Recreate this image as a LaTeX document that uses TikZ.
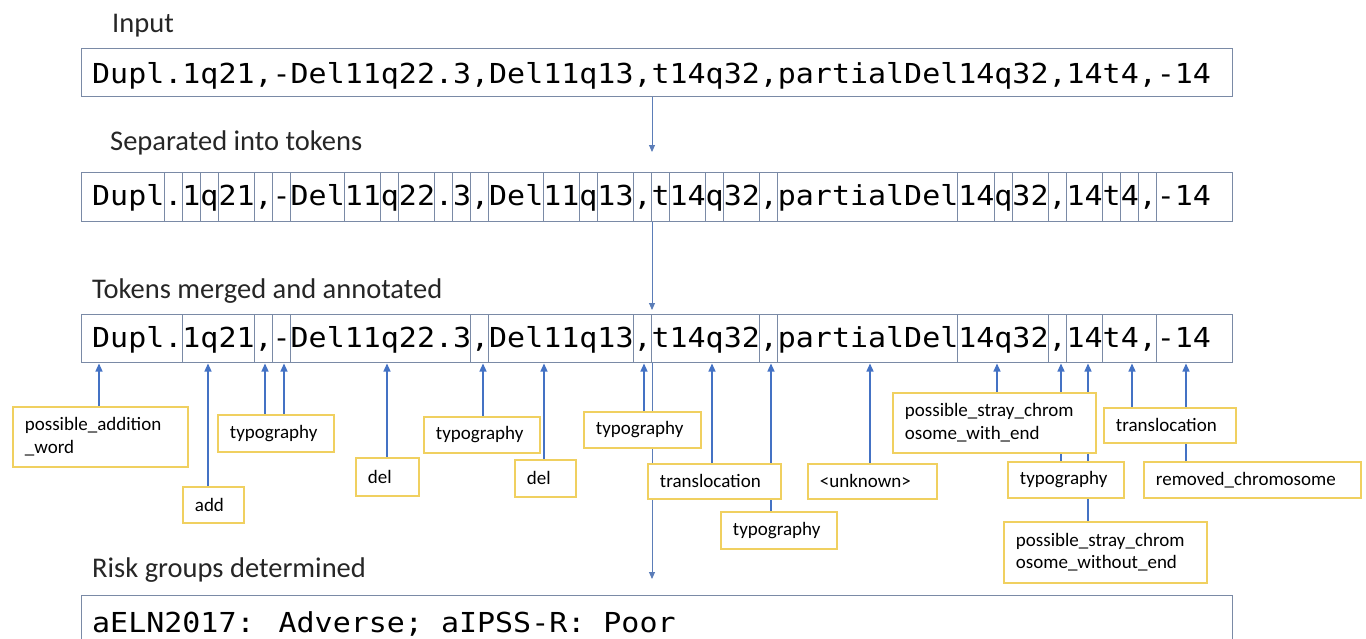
\documentclass[tikz,border=0pt]{standalone}
\usepackage{fontspec}
\setmainfont{Carlito}
\newfontfamily\monofont[FakeStretch=1.09]{DejaVu Sans Mono}
\usetikzlibrary{arrows.meta,backgrounds}
\definecolor{boxline}{HTML}{7A8AA6}
\definecolor{annline}{HTML}{F0D060}
\definecolor{arrowblue}{HTML}{4472C4}
\definecolor{mainarrowc}{HTML}{5B7DB8}
\tikzset{
  mainbox/.style={draw=boxline, line width=1.1pt, fill=none, anchor=north west, inner sep=0pt, minimum width=1151pt},
  divline/.style={draw=boxline, line width=1pt},
  monotext/.style={anchor=base west, inner sep=0pt, font=\monofont\fontsize{27.5}{30}\selectfont},
  heading/.style={anchor=base west, inner sep=0pt, text=black!85, font=\fontsize{28.5}{32}\selectfont},
  ann/.style={draw=annline, line width=1.8pt, fill=white, anchor=north west, inner xsep=12pt, inner ysep=0pt, align=left, font=\fontsize{19}{22.5}\selectfont},
  annarrow/.style={draw=arrowblue, line width=1.2pt, -{Triangle[width=7pt,length=8pt]}, shorten >=1.5pt},
  mainarrow/.style={draw=mainarrowc, line width=0.9pt, -{Triangle[width=6pt,length=7pt]}}
}
\begin{document}
\begin{tikzpicture}[x=1pt,y=-1pt]
\useasboundingbox (0,0) rectangle (1366,638);
\clip (0,0) rectangle (1366,638);
\def\xo{92}
\def\cw{18.04}
% headings
\node[heading] (h1) at (112,32) {Input};
\node[heading] (h2) at (110,150) {Separated into tokens};
\node[heading] (h3) at (92,298) {Tokens merged and annotated};
\node[heading] (h4) at (92,577) {Risk groups determined};
% main boxes
\node[mainbox, minimum height=48pt] (b1) at (81,48) {};
\node[mainbox, minimum height=49pt] (b2) at (81,172) {};
\node[mainbox, minimum height=48pt] (b3) at (81,314) {};
\node[mainbox, minimum height=70pt] (b4) at (81,595) {};
\node[monotext] (s1) at (\xo,83) {Dupl.1q21,-Del11q22.3,Del11q13,t14q32,partialDel14q32,14t4,-14};
\node[monotext] (s2) at (\xo,205) {Dupl.1q21,-Del11q22.3,Del11q13,t14q32,partialDel14q32,14t4,-14};
\node[monotext] (s3) at (\xo,347) {Dupl.1q21,-Del11q22.3,Del11q13,t14q32,partialDel14q32,14t4,-14};
\node[monotext] (s4) at (\xo,632) {aELN2017: Adverse; aIPSS-R: Poor};
% token dividers
\foreach \k in {4,5,6,7,9,10,11,14,16,17,19,20,21,22,25,27,28,30,31,32,34,35,37,38,48,50,51,53,54,56,57,58,59}
  \draw[divline] ({\xo+\k*\cw},172) -- ({\xo+\k*\cw},221);
\foreach \k in {5,9,10,11,21,22,30,31,37,38,48,53,54,56,59}
  \draw[divline] ({\xo+\k*\cw},314) -- ({\xo+\k*\cw},362);
% annotation boxes
\node[ann, text width=151pt, minimum height=60pt] (a1) at (12,406) {possible\_addition\\\_word};
\node[ann, text width=37pt, minimum height=36pt] (a2) at (182,486) {add};
\node[ann, text width=92pt, minimum height=37pt] (a3) at (217,414) {typography};
\node[ann, text width=39pt, minimum height=38pt] (a4) at (355,457) {del};
\node[ann, text width=92pt, minimum height=36pt] (a5) at (423,416) {typography};
\node[ann, text width=37pt, minimum height=37pt] (a6) at (514,459) {del};
\node[ann, text width=93pt, minimum height=36pt] (a7) at (583,411) {typography};
\node[ann, text width=109pt, minimum height=35pt] (a8) at (647,463) {translocation};
\node[ann, text width=92pt, minimum height=37pt] (a9) at (720,511) {typography};
\node[ann, text width=105pt, minimum height=35pt] (a10) at (807,463) {<unknown>};
\node[ann, text width=179pt, minimum height=60pt] (a11) at (892,392) {possible\_stray\_chrom\\osome\_with\_end};
\node[ann, text width=92pt, minimum height=36pt] (a12) at (1007,461) {typography};
\node[ann, text width=179pt, minimum height=61pt] (a13) at (1003,521) {possible\_stray\_chrom\\osome\_without\_end};
\node[ann, text width=108pt, minimum height=35pt] (a14) at (1103,407) {translocation};
\node[ann, text width=193pt, minimum height=36pt] (a15) at (1143,461) {removed\_chromosome};
% arrow target coordinates
\coordinate (m1) at (652,152);
\coordinate (m2) at (652,310);
\coordinate (m3) at (652,579);
\coordinate (p1) at (99,362);
\coordinate (p2) at (208,362);
\coordinate (p3) at (265,362);
\coordinate (p4) at (284,362);
\coordinate (p5) at (387,362);
\coordinate (p6) at (483,362);
\coordinate (p7) at (544,362);
\coordinate (p8) at (644,362);
\coordinate (p9) at (712,362);
\coordinate (p10) at (771,362);
\coordinate (p11) at (870,362);
\coordinate (p12) at (997,362);
\coordinate (p13) at (1061,362);
\coordinate (p14) at (1088,362);
\coordinate (p15) at (1132,362);
\coordinate (p16) at (1186,362);
\begin{pgfonlayer}{background}
\draw[mainarrow] (m1 |- b1.south) -- (m1);
\draw[mainarrow] (m2 |- b2.south) -- (m2);
\draw[mainarrow] (m3 |- b3.south) -- (m3);
\draw[annarrow] (p1 |- a1.north) -- (p1);
\draw[annarrow] (p2 |- a2.north) -- (p2);
\draw[annarrow] (p3 |- a3.north) -- (p3);
\draw[annarrow] (p4 |- a3.north) -- (p4);
\draw[annarrow] (p5 |- a4.north) -- (p5);
\draw[annarrow] (p6 |- a5.north) -- (p6);
\draw[annarrow] (p7 |- a6.north) -- (p7);
\draw[annarrow] (p8 |- a7.north) -- (p8);
\draw[annarrow] (p9 |- a8.north) -- (p9);
\draw[annarrow] (p10 |- a9.north) -- (p10);
\draw[annarrow] (p11 |- a10.north) -- (p11);
\draw[annarrow] (p12 |- a11.north) -- (p12);
\draw[annarrow] (p13 |- a12.north) -- (p13);
\draw[annarrow] (p14 |- a13.north) -- (p14);
\draw[annarrow] (p15 |- a14.north) -- (p15);
\draw[annarrow] (p16 |- a15.north) -- (p16);
\end{pgfonlayer}
\end{tikzpicture}
\end{document}
